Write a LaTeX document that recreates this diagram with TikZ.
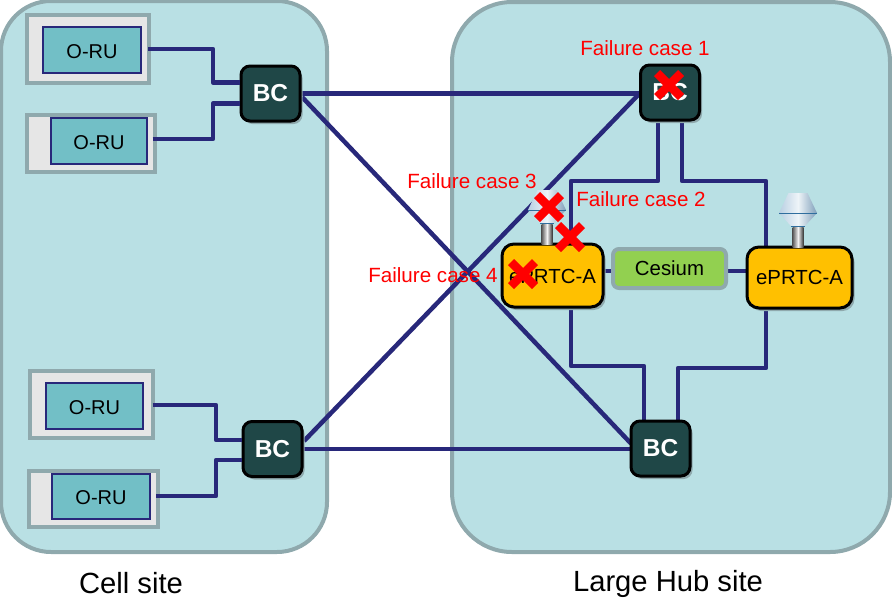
\documentclass[tikz,border=0pt]{standalone}
\usepackage{fontspec}
\setmainfont{Liberation Sans}
\usetikzlibrary{shadows,calc}
\definecolor{panelfill}{HTML}{B9E0E4}
\definecolor{panelline}{HTML}{8FA9AD}
\definecolor{wire}{HTML}{28287A}
\definecolor{rufill}{HTML}{72BFC6}
\definecolor{boxgray}{HTML}{E6E6E6}
\definecolor{bcfill}{HTML}{1F4747}
\definecolor{amber}{HTML}{FFC000}
\definecolor{leaf}{HTML}{92D050}
\definecolor{hatleft}{HTML}{B8CFE2}
\definecolor{hatright}{HTML}{7F9FBA}
\definecolor{hatmid}{HTML}{EEF4F8}
\definecolor{hatline}{HTML}{2F6E9E}
\pgfdeclarelayer{back}
\pgfsetlayers{back,main}
\newcommand{\sz}[1]{\fontsize{#1}{#1}\selectfont}
\tikzset{
  panel/.style={draw=panelline,fill=panelfill,line width=4pt,outer sep=0pt,inner sep=0pt},
  ruouter/.style={draw=panelline,fill=boxgray,line width=4pt,outer sep=0pt,inner sep=0pt},
  ruinner/.style={draw=wire,fill=rufill,line width=1.4pt,outer sep=0pt,inner sep=0pt,font=\sz{20},text height=16.3pt,text depth=0pt},
  softshadow/.style={general shadow={shadow xshift=2.5pt,shadow yshift=-3pt,fill=panelline}},
  bcbox/.style={draw=black,fill=bcfill,text=white,line width=3pt,rounded corners=9pt,minimum width=59pt,minimum height=55pt,outer sep=0pt,inner sep=0pt,font=\sz{24.5}\bfseries,softshadow},
  prtc/.style={draw=black,fill=amber,line width=3pt,rounded corners=12pt,outer sep=0pt,inner sep=0pt,font=\sz{20.4},softshadow},
  cesiumbox/.style={draw=panelline,fill=leaf,line width=4pt,rounded corners=6pt,outer sep=0pt,inner sep=0pt,font=\sz{20.4}},
  wireline/.style={draw=wire,line width=4.5pt,line join=round},
  faillabel/.style={text=red,font=\sz{20.6},inner sep=0pt},
  sitelabel/.style={text=black,font=\sz{29.2},inner sep=0pt},
  cross/.style={draw=red,line width=8.5pt},
  antenna/.pic={
    \shade[left color=black!65,right color=black!80,middle color=black!5]
      (-5.5,-20) rectangle (5.5,0);
    \shade[left color=hatleft,right color=hatright,middle color=hatmid]
      (-9.5,-54) -- (9.5,-54) -- (19,-34) -- (7,-21) -- (-7,-21) -- (-19,-34) -- cycle;
    \draw[draw=hatline,line width=1pt] (-19,-34) -- (19,-34);
    \draw[draw=hatline,line width=1pt] (-7,-21) -- (7,-21);
  }
}
\begin{document}
\begin{tikzpicture}[x=1pt,y=-1pt]
\useasboundingbox (0,0) rectangle (892,598);
\begin{pgfonlayer}{back}
\node[panel,rounded corners=50pt,minimum width=326pt,minimum height=551pt] (cell) at (164,276.5) {};
\node[panel,rounded corners=60pt,minimum width=438pt,minimum height=550pt] (hub) at (671,277) {};
\end{pgfonlayer}
% O-RU units
\node[ruouter,minimum width=122pt,minimum height=68pt] (box1) at (88,48.5) {};
\node[ruinner,minimum width=98pt,minimum height=46pt] (ru1) at (92,50) {O-RU};
\node[ruouter,minimum width=128pt,minimum height=57pt] (box2) at (91,143) {};
\node[ruinner,minimum width=96pt,minimum height=46pt] (ru2) at (99,141) {O-RU};
\node[ruouter,minimum width=123pt,minimum height=67pt] (box3) at (91.5,404) {};
\node[ruinner,minimum width=97pt,minimum height=46pt] (ru3) at (94.5,406) {O-RU};
\node[ruouter,minimum width=129pt,minimum height=56pt] (box4) at (93.5,498.5) {};
\node[ruinner,minimum width=98pt,minimum height=45pt] (ru4) at (101,496.5) {O-RU};
% BC
\node[bcbox] (bca) at (270.5,93.5) {BC};
\node[bcbox] (bcb) at (272.5,449) {BC};
\node[bcbox] (bcc) at (670,92.5) {BC};
\node[bcbox] (bcd) at (660.5,448.5) {BC};
% Connectors over the O-RU frames
\draw[wireline] (box1.east) ++(-1,0.5) -- (213,49) |- ([xshift=-1.5pt,yshift=11pt]bca.west);
\draw[wireline] (box2.east) ++(-2.5,-4) -- (213,139) |- ([xshift=-1.5pt,yshift=-10pt]bca.west);
\draw[wireline] (box3.east) ++(-0.5,1) -- (216,405) |- ([xshift=-1.5pt,yshift=9pt]bcb.west);
\draw[wireline] (box4.east) ++(-2,-2.5) -- (216,496) |- ([xshift=-1.5pt,yshift=-11pt]bcb.west);
% Clock
\node[prtc,minimum width=101pt,minimum height=63pt,text height=16.7pt,text depth=0pt] (pa) at (552.5,275.5) {ePRTC-A};
\node[prtc,minimum width=105pt,minimum height=61pt] (pb) at (799.5,277.5) {ePRTC-A};
\node[cesiumbox,minimum width=113pt,minimum height=39pt] (cs) at (669.5,268.5) {Cesium};
% Connectors
\begin{pgfonlayer}{back}
\draw[wireline] (bca.east) -- (bca.east -| bcc.west);
\draw[wireline] (bcb.east) -- (bcb.east -| bcd.west);
\draw[wireline] ([xshift=2pt,yshift=-3.5pt]bca.east) -- ([yshift=5pt]bcd.west);
\draw[wireline] ([xshift=2pt,yshift=8pt]bcb.east) -- (bcc.west);
\draw[wireline] ([xshift=-12pt]bcc.south) -- (658,181) -- (571,181) -- ([xshift=18.5pt]pa.north);
\draw[wireline] ([xshift=12pt]bcc.south) -- (682,181) -- (766,181) -- ([xshift=-33.5pt]pb.north);
\draw[wireline] ([xshift=18.5pt]pa.south) -- (571,366) -- (644,366) -- ([xshift=-16.5pt]bcd.north);
\draw[wireline] ([xshift=-33.5pt]pb.south) -- (766,368) -- (678,368) -- ([xshift=17.5pt]bcd.north);
\draw[wireline] ([yshift=-2.5pt]cs.west -| pa.east) -- ([yshift=-2.5pt]cs.west);
\draw[wireline] ([yshift=-2.5pt]cs.east) -- ([yshift=-2.5pt]cs.east -| pb.west);
\end{pgfonlayer}
% Antennas
\pic at (547,244) {antenna};
\pic at (798,247) {antenna};
% Labels
\node[faillabel] (f1) at (645,48) {Failure case 1};
\node[faillabel] (f2) at (641,199) {Failure case 2};
\node[faillabel] (f3) at (472,181) {Failure case 3};
\node[faillabel] (f4) at (433,275) {Failure case 4};
\node[sitelabel] (s1) at (131,583) {Cell site};
\node[sitelabel] (s2) at (668,584) {Large Hub site};
% Failure marks
\foreach \cx/\cy in {669/85,549/207,570/237,523/274}{
  \draw[cross] (\cx-12,\cy-12) -- (\cx+12,\cy+12);
  \draw[cross] (\cx-12,\cy+12) -- (\cx+12,\cy-12);
}
\end{tikzpicture}
\end{document}
